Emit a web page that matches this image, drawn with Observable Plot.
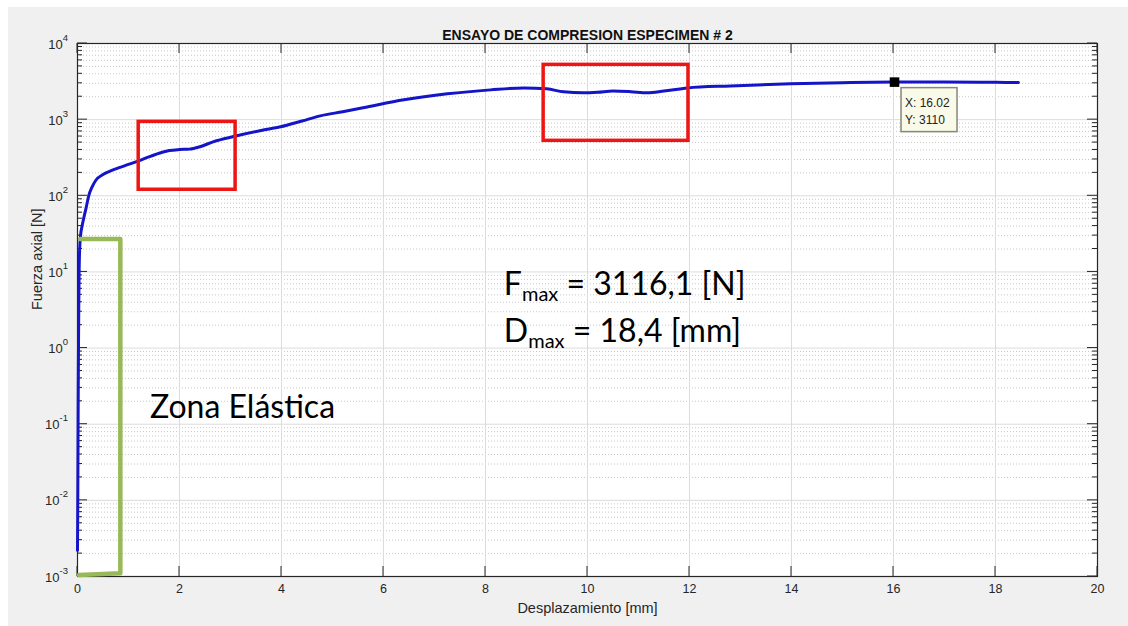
<!DOCTYPE html>
<html><head><meta charset="utf-8">
<script src="https://cdn.jsdelivr.net/npm/d3@7"></script>
<script src="https://cdn.jsdelivr.net/npm/@observablehq/plot@0.6"></script>
<style>
html,body{margin:0;padding:0;background:#fff;overflow:hidden;}
#chart{width:1128px;height:626px;}
</style></head><body><div id="chart"></div>
<script>
// ---- texts ----
const titleText = "ENSAYO DE COMPRESION ESPECIMEN # 2";
const xLabel = "Desplazamiento [mm]";
const yLabel = "Fuerza axial [N]";

// ---- curve data ----
const desplazamiento = [0, 0.005, 0.01, 0.015, 0.02, 0.025, 0.03, 0.04, 0.06, 0.09, 0.12, 0.17, 0.22, 0.28, 0.36, 0.5, 0.65, 0.8, 1.0, 1.2, 1.4, 1.6, 1.8, 2.0, 2.2, 2.4, 2.67, 3.06, 3.6, 3.98, 4.4, 4.76, 5.2, 5.6, 6.4, 7.25, 8.1, 8.75, 9.2, 9.53, 9.92, 10.2, 10.5, 10.85, 11.17, 11.5, 11.96, 12.8, 13.98, 15.0, 16.02, 17.0, 18.0, 18.45];
const fuerza = [0.0022, 0.008, 0.05, 0.3, 1.2, 3.5, 8, 18, 30, 40, 50, 70, 100, 128, 160, 190, 212, 232, 258, 288, 325, 362, 393, 405, 410, 440, 515, 600, 720, 805, 960, 1122, 1270, 1429, 1820, 2181, 2460, 2612, 2540, 2317, 2250, 2290, 2380, 2330, 2250, 2380, 2610, 2775, 2960, 3060, 3110, 3110, 3090, 3080];

// ---- ticks ----
const xTicks = [0, 2, 4, 6, 8, 10, 12, 14, 16, 18, 20];
const yDecades = [1e-3, 1e-2, 1e-1, 1e0, 1e1, 1e2, 1e3, 1e4];
const yMantissas = [2, 3, 4, 5, 6, 7, 8, 9];

// ---- annotations ----
const boxX1 = [1.2, 9.14];
const boxX2 = [3.1, 11.98];
const boxY1 = [120, 527];
const boxY2 = [935, 5240];
const bracketX = [0.05, 0.84, 0.84, 0.03];
const bracketY = [27, 27, 0.0011, 0.00105];
const tipX = [16.02];
const tipY = [3110];
const tipLines = ["X: 16.02", "Y: 3110"];
const noteMain = ["F", "D"];
const noteSub = ["max", "max"];
const noteRest = [" = 3116,1 [N]", " = 18,4 [mm]"];
const noteX = [8.37, 8.37];
const noteY = [4.87, 1.18];
const zoneText = ["Zona Elástica"];
const zoneX = [1.43];
const zoneY = [0.118];

const AX = "#262626";
const minorTicks = yDecades.slice(0, -1).flatMap(d => yMantissas.map(m => m * d));

function pageBorder(index, scales, values, dims) {
  const g = d3.create("svg:g");
  g.append("rect").attr("x", 0).attr("y", 0).attr("width", dims.width).attr("height", 7).attr("fill", "#fff");
  g.append("rect").attr("x", 0).attr("y", 0).attr("width", 8).attr("height", dims.height).attr("fill", "#fff");
  return g.node();
}

function insideTicks(index, scales, values, dims) {
  const g = d3.create("svg:g").attr("stroke", AX).attr("stroke-width", 1);
  const L = dims.marginLeft, R = dims.width - dims.marginRight, T = dims.marginTop, B = dims.height - dims.marginBottom;
  for (const v of xTicks) {
    const p = scales.x(v);
    g.append("line").attr("x1", p).attr("x2", p).attr("y1", B).attr("y2", B - 10);
    g.append("line").attr("x1", p).attr("x2", p).attr("y1", T).attr("y2", T + 10);
  }
  for (const v of yDecades) {
    const p = scales.y(v);
    g.append("line").attr("x1", L).attr("x2", L + 10).attr("y1", p).attr("y2", p);
    g.append("line").attr("x1", R).attr("x2", R - 10).attr("y1", p).attr("y2", p);
  }
  for (const v of minorTicks) {
    const p = scales.y(v);
    g.append("line").attr("x1", L).attr("x2", L + 5).attr("y1", p).attr("y2", p);
    g.append("line").attr("x1", R).attr("x2", R - 5).attr("y1", p).attr("y2", p);
  }
  return g.node();
}

function yTickLabels(index, scales, values, dims) {
  const g = d3.create("svg:g").attr("fill", AX).attr("font-family", "'Liberation Sans', Arial, sans-serif").attr("text-anchor", "end");
  const L = dims.marginLeft;
  for (const v of yDecades) {
    const p = scales.y(v);
    const t = g.append("text").attr("x", L - 9).attr("y", p + 5.5).attr("font-size", 13);
    t.append("tspan").text("10");
    t.append("tspan").attr("dy", -8).attr("font-size", 9.5).text(String(Math.round(Math.log10(v))));
  }
  return g.node();
}

function tooltip(index, scales, values, dims) {
  const g = d3.create("svg:g").attr("text-anchor", "start");
  const px = scales.x(tipX[0]), py = scales.y(tipY[0]);
  g.append("rect").attr("x", px + 7).attr("y", py + 6).attr("width", 56).attr("height", 44)
    .attr("fill", "#fafae8").attr("stroke", "#86867a").attr("stroke-width", 1.5);
  tipLines.forEach((s, i) => {
    g.append("text").attr("x", px + 11).attr("y", py + 25 + i * 17).attr("font-size", 12)
      .attr("font-family", "'Liberation Sans', Arial, sans-serif").attr("fill", "#222").text(s);
  });
  return g.node();
}

function notes(index, scales, values, dims) {
  const g = d3.create("svg:g").attr("font-family", "Lato, 'Open Sans', sans-serif").attr("fill", "#000").attr("text-anchor", "start");
  noteMain.forEach((m, i) => {
    const t = g.append("text").attr("x", scales.x(noteX[i])).attr("y", scales.y(noteY[i])).attr("font-size", 32);
    t.append("tspan").text(m);
    t.append("tspan").attr("dy", 6).attr("font-size", 20).text(noteSub[i]);
    t.append("tspan").attr("dy", -6).text(noteRest[i]);
  });
  zoneText.forEach((s, i) => {
    g.append("text").attr("x", scales.x(zoneX[i])).attr("y", scales.y(zoneY[i])).attr("font-size", 32).text(s);
  });
  return g.node();
}

const chart = Plot.plot({
  width: 1128,
  height: 626,
  marginLeft: 77,
  marginRight: 31,
  marginTop: 43,
  marginBottom: 50,
  style: {background: "#f0f0f0", fontFamily: "'Liberation Sans', Arial, sans-serif", overflow: "visible"},
  x: {domain: [0, 20], axis: null},
  y: {type: "log", domain: [1e-3, 1e4], axis: null},
  marks: [
    pageBorder,
    Plot.frame({fill: "white", stroke: "none"}),
    Plot.ruleY(minorTicks, {stroke: "#c8c8c8", strokeDasharray: "1,2"}),
    Plot.ruleY(yDecades, {stroke: "#dcdcdc"}),
    Plot.ruleX(xTicks, {stroke: "#dcdcdc"}),
    Plot.frame({stroke: AX, strokeWidth: 1.2}),
    insideTicks,
    Plot.line(fuerza, {x: desplazamiento, y: fuerza, stroke: "#1414c8", strokeWidth: 3, curve: "monotone-x"}),
    Plot.rect(boxX1, {x1: boxX1, x2: boxX2, y1: boxY1, y2: boxY2, fill: "none", stroke: "#ee1515", strokeWidth: 3.5}),
    Plot.line(bracketX, {x: bracketX, y: bracketY, stroke: "#98b957", strokeWidth: 4.5, strokeLinejoin: "round", strokeLinecap: "round"}),
    Plot.dot(tipX, {x: tipX, y: tipY, symbol: "square", fill: "black", r: 5.4}),
    tooltip,
    Plot.text(xTicks, {x: d => d, frameAnchor: "bottom", dy: 16, text: d => String(d), fontSize: 12.5, fill: AX}),
    yTickLabels,
    Plot.text([titleText], {frameAnchor: "top", dy: -13, fontWeight: "bold", fontSize: 14, fill: "#111"}),
    Plot.text([xLabel], {frameAnchor: "bottom", dy: 36, fontSize: 14.5, fill: AX}),
    Plot.text([yLabel], {frameAnchor: "left", dx: -40, rotate: -90, fontSize: 14.5, fill: AX}),
    notes
  ]
});
document.getElementById("chart").appendChild(chart);
</script>
</body></html>
